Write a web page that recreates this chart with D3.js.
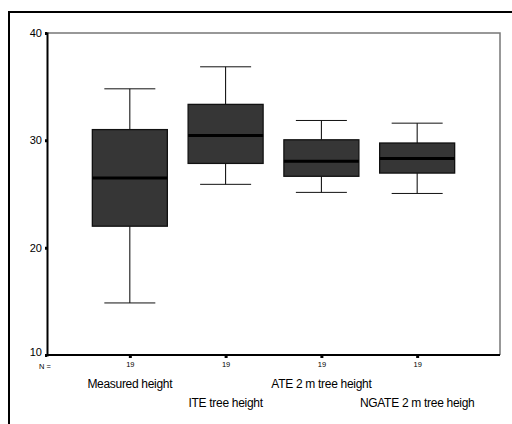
<!DOCTYPE html>
<html><head><meta charset="utf-8">
<script src="https://cdn.jsdelivr.net/npm/d3@7"></script>
<style>body{margin:0;background:#fff}svg{display:block}</style>
</head><body>
<script>
const categories = ["Measured height","ITE tree height","ATE 2 m tree height","NGATE 2 m tree heigh"];
const nValues = [19,19,19,19];
const whiskerLow = [14.85, 25.9, 25.15, 25.05];
const q1 = [22.0, 27.85, 26.65, 26.95];
const median = [26.5, 30.45, 28.05, 28.3];
const q3 = [31.0, 33.35, 30.05, 29.75];
const whiskerHigh = [34.8, 36.85, 31.85, 31.6];
const yTicks = [10,20,30,40];

(function(){
const W=512,H=424;
const svg=d3.select("body").append("svg").attr("width",W).attr("height",H);
const pL=47,pR=500,pT=33,pB=355;
const y=d3.scaleLinear().domain([10,40]).range([pB,pT]);
const x=d3.scalePoint().domain(categories).range([pL,pR]).padding(0.865);
const FONT="Arial, 'Liberation Sans', sans-serif";

// outer frame
svg.append("path").attr("d",`M9,${H+5}V12H${W+5}`).attr("fill","none").attr("stroke","#000").attr("stroke-width",2);

// plot frame top/right grey
svg.append("path").attr("d",`M${pL},${pT}H${pR}V${pB}`).attr("fill","none").attr("stroke","#777").attr("stroke-width",1.5);

const data=categories.map((c,i)=>({c,lo:whiskerLow[i],q1:q1[i],med:median[i],q3:q3[i],hi:whiskerHigh[i],n:nValues[i]}));
const bw=75, cw=51;
const b=svg.append("g").selectAll("g.box").data(data).join("g").attr("class","box");
b.append("line").attr("x1",d=>x(d.c)).attr("x2",d=>x(d.c)).attr("y1",d=>y(d.hi)).attr("y2",d=>y(d.q3)).attr("stroke","#000").attr("stroke-width",1);
b.append("line").attr("x1",d=>x(d.c)).attr("x2",d=>x(d.c)).attr("y1",d=>y(d.q1)).attr("y2",d=>y(d.lo)).attr("stroke","#000").attr("stroke-width",1);
b.append("line").attr("x1",d=>x(d.c)-cw/2).attr("x2",d=>x(d.c)+cw/2).attr("y1",d=>y(d.hi)).attr("y2",d=>y(d.hi)).attr("stroke","#111").attr("stroke-width",1);
b.append("line").attr("x1",d=>x(d.c)-cw/2).attr("x2",d=>x(d.c)+cw/2).attr("y1",d=>y(d.lo)).attr("y2",d=>y(d.lo)).attr("stroke","#111").attr("stroke-width",1);
b.append("rect").attr("x",d=>x(d.c)-bw/2).attr("width",bw).attr("y",d=>y(d.q3)).attr("height",d=>y(d.q1)-y(d.q3)).attr("fill","#363636").attr("stroke","#111").attr("stroke-width",1.3);
b.append("line").attr("x1",d=>x(d.c)-bw/2).attr("x2",d=>x(d.c)+bw/2).attr("y1",d=>y(d.med)).attr("y2",d=>y(d.med)).attr("stroke","#000").attr("stroke-width",3);

// y axis
const ya=svg.append("g").attr("transform",`translate(${pL},0)`).call(d3.axisLeft(y).tickValues(yTicks).tickSize(2).tickPadding(3).tickFormat(d3.format("d")));
ya.select(".domain").attr("stroke","#000").attr("stroke-width",2);
ya.selectAll(".tick line").attr("stroke","#000").attr("stroke-width",3);
ya.selectAll(".tick text").attr("font-family",FONT).attr("font-size",11).attr("fill","#000");
ya.selectAll(".tick").filter(d=>d===10).select("text").attr("dy","0.05em");

// x axis
const xa=svg.append("g").attr("transform",`translate(0,${pB})`).call(d3.axisBottom(x).tickSize(3).tickFormat((d,i)=>nValues[i]).tickPadding(4));
xa.select(".domain").attr("d",`M${pL},0H${pR}`).attr("stroke","#000").attr("stroke-width",2);
xa.selectAll(".tick line").attr("stroke","#000").attr("stroke-width",3);
xa.selectAll(".tick text").attr("font-family",FONT).attr("font-size",7.5).attr("fill","#000");

svg.append("text").attr("x",45).attr("y",369).attr("text-anchor","middle").attr("font-family",FONT).attr("font-size",7.5).text("N =");

svg.selectAll("text.cat").data(categories).join("text").attr("class","cat")
  .attr("x",d=>x(d)).attr("y",(d,i)=>i%2===0?388:407).attr("text-anchor","middle")
  .attr("font-family",FONT).attr("font-size",12).attr("letter-spacing",-0.3).text(d=>d);
})();
</script>
</body></html>
